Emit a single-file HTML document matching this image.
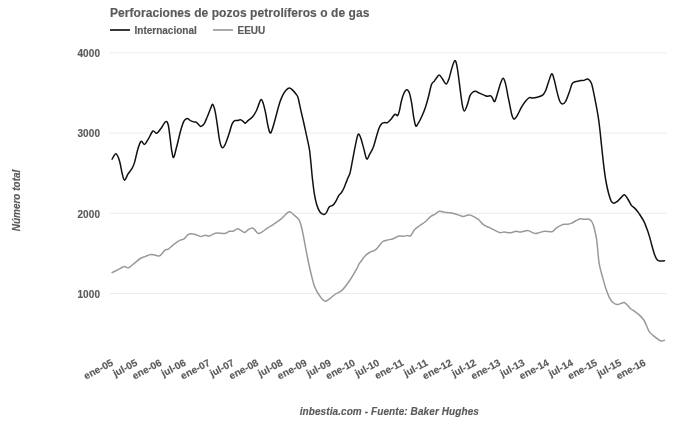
<!DOCTYPE html>
<html><head><meta charset="utf-8"><style>
html,body{margin:0;padding:0;background:#fff;}
body{width:680px;height:424px;overflow:hidden;}
svg{display:block;will-change:transform;}
text{stroke:#5a5a5a;stroke-width:0.15;font-family:"Liberation Sans",sans-serif;}
.t{font-size:12px;letter-spacing:0.06px;font-weight:bold;fill:#5a5a5a;}
.lg{font-size:10px;letter-spacing:0px;font-weight:bold;fill:#5a5a5a;}
.yl{font-size:10px;letter-spacing:0.1px;font-weight:bold;fill:#5a5a5a;}
.xl text{font-size:10px;font-weight:bold;fill:#5a5a5a;}
.at{font-size:10px;font-weight:bold;font-style:italic;fill:#5a5a5a;}
.ft{font-size:10px;letter-spacing:0.09px;font-weight:bold;font-style:italic;fill:#5a5a5a;}
</style></head><body>
<svg width="680" height="424" viewBox="0 0 680 424">
<rect width="680" height="424" fill="#fff"/>
<text class="t" x="110" y="16.7">Perforaciones de pozos petrolíferos o de gas</text>
<line x1="110" x2="130" y1="30" y2="30" stroke="#383838" stroke-width="2"/>
<text class="lg" x="134.5" y="33.8">Internacional</text>
<line x1="213" x2="233" y1="30" y2="30" stroke="#aaa" stroke-width="2"/>
<text class="lg" x="237.5" y="33.8">EEUU</text>
<line x1="110" x2="667" y1="52.90" y2="52.90" stroke="#ececec" stroke-width="1"/><text x="100.1" y="57.10" text-anchor="end" class="yl">4000</text><line x1="110" x2="667" y1="133.10" y2="133.10" stroke="#ececec" stroke-width="1"/><text x="100.1" y="137.30" text-anchor="end" class="yl">3000</text><line x1="110" x2="667" y1="213.30" y2="213.30" stroke="#ececec" stroke-width="1"/><text x="100.1" y="217.50" text-anchor="end" class="yl">2000</text><line x1="110" x2="667" y1="293.50" y2="293.50" stroke="#ececec" stroke-width="1"/><text x="100.1" y="297.70" text-anchor="end" class="yl">1000</text>
<path d="M112.1,272.6C112.9,272.2 115.4,271.0 116.8,270.3C118.2,269.6 119.0,269.0 120.3,268.4C121.5,267.8 122.9,266.6 124.3,266.5C125.7,266.4 126.9,268.2 128.6,267.7C130.3,267.1 132.5,264.7 134.5,263.2C136.5,261.7 138.6,259.6 140.4,258.5C142.2,257.4 143.5,257.2 145.1,256.6C146.7,256.0 148.4,255.0 149.8,254.7C151.2,254.4 151.9,254.5 153.3,254.7C154.7,254.9 156.9,255.8 158.1,255.9C159.3,256.0 159.2,256.4 160.4,255.4C161.6,254.4 163.7,251.3 165.1,250.2C166.5,249.1 167.3,249.7 168.7,248.8C170.1,247.9 171.6,246.2 173.4,244.8C175.2,243.4 177.5,241.6 179.3,240.6C181.1,239.6 182.4,240.0 184.0,238.9C185.6,237.8 186.9,235.0 188.7,234.2C190.5,233.4 192.6,233.8 194.6,234.2C196.6,234.6 198.8,236.4 200.5,236.6C202.2,236.8 203.6,235.4 205.1,235.3C206.6,235.2 208.2,236.2 209.6,236.0C210.9,235.8 211.9,234.6 213.2,234.1C214.5,233.6 215.6,233.2 217.6,233.1C219.6,233.0 223.0,233.8 225.0,233.5C227.0,233.2 228.1,231.7 229.4,231.3C230.8,230.9 231.8,231.6 233.1,231.2C234.4,230.8 236.2,228.8 237.5,228.7C238.8,228.6 240.0,230.0 241.2,230.6C242.4,231.2 243.7,232.6 244.9,232.4C246.1,232.2 247.3,230.2 248.5,229.4C249.7,228.7 251.2,227.9 252.2,227.9C253.2,227.9 253.4,228.5 254.4,229.4C255.4,230.3 256.9,233.0 258.1,233.4C259.3,233.8 260.2,233.0 261.8,232.1C263.4,231.2 265.7,229.2 267.6,227.9C269.6,226.6 271.3,225.8 273.5,224.3C275.7,222.8 278.9,220.7 280.9,219.1C282.9,217.5 283.9,215.9 285.3,214.7C286.7,213.5 288.0,212.2 289.0,211.8C290.0,211.4 290.3,211.9 291.2,212.5C292.1,213.1 293.1,214.2 294.1,215.1C295.1,215.9 296.1,216.4 297.1,217.6C298.1,218.8 299.0,219.3 300.0,222.0C301.0,224.7 301.9,228.4 303.0,233.8C304.1,239.2 305.6,248.0 306.9,254.5C308.2,261.0 309.5,267.3 310.8,272.7C312.1,278.1 313.2,283.1 314.7,287.0C316.2,290.9 318.2,293.7 319.9,296.1C321.6,298.5 323.4,301.0 325.1,301.3C326.8,301.6 328.6,299.4 330.3,298.2C332.0,297.0 333.6,295.3 335.5,294.0C337.4,292.7 339.5,292.6 341.9,290.4C344.3,288.1 347.1,284.3 349.7,280.5C352.3,276.7 356.0,270.1 357.5,267.5C359.0,264.9 358.0,265.7 358.6,264.6C359.2,263.5 360.3,262.2 361.2,261.0C362.1,259.8 362.9,258.5 363.8,257.4C364.7,256.3 365.7,255.3 366.8,254.4C367.9,253.5 369.2,252.6 370.4,252.0C371.6,251.4 373.1,251.2 374.1,250.7C375.1,250.2 375.7,249.8 376.6,248.9C377.5,248.0 378.7,246.3 379.7,245.1C380.7,243.9 381.6,242.3 382.8,241.5C384.0,240.7 385.2,240.7 386.9,240.2C388.6,239.7 391.1,239.4 393.1,238.7C395.1,238.0 397.1,236.4 398.8,236.0C400.5,235.6 401.9,236.4 403.4,236.3C404.8,236.2 406.3,235.6 407.5,235.5C408.7,235.4 409.4,236.8 410.6,235.8C411.8,234.8 413.1,231.3 414.7,229.6C416.2,227.9 418.1,226.8 419.9,225.5C421.7,224.2 423.4,223.4 425.3,221.8C427.2,220.2 429.6,217.4 431.2,216.2C432.8,214.9 433.5,215.1 434.9,214.3C436.2,213.5 437.7,211.7 439.3,211.3C440.9,211.0 442.6,211.9 444.4,212.2C446.2,212.4 448.3,212.5 450.3,212.8C452.3,213.2 454.1,213.7 456.2,214.3C458.3,214.9 461.1,216.3 463.0,216.4C464.9,216.5 466.5,215.2 467.9,215.0C469.3,214.8 470.1,215.0 471.2,215.4C472.3,215.8 473.3,216.5 474.5,217.2C475.7,217.9 476.9,218.2 478.4,219.4C479.9,220.7 481.7,223.3 483.5,224.7C485.3,226.1 487.4,226.6 489.4,227.6C491.4,228.6 493.6,229.8 495.3,230.6C497.0,231.4 498.2,232.3 499.7,232.6C501.2,232.8 502.3,232.1 504.1,232.1C505.9,232.1 508.7,232.9 510.7,232.8C512.7,232.7 514.2,231.4 515.9,231.3C517.6,231.2 519.0,232.2 521.0,232.1C523.0,231.9 525.8,230.3 527.6,230.4C529.5,230.5 530.8,231.9 532.1,232.4C533.5,232.9 534.5,233.5 535.7,233.5C536.9,233.5 537.9,233.0 539.4,232.6C540.9,232.2 542.5,231.3 544.6,231.2C546.7,231.0 550.0,232.1 551.9,231.7C553.8,231.3 554.5,229.5 555.7,228.6C557.0,227.7 558.1,226.9 559.4,226.2C560.7,225.5 562.4,224.6 563.7,224.3C565.1,224.0 566.2,224.5 567.5,224.3C568.8,224.1 570.4,223.7 571.7,223.1C573.0,222.5 574.1,221.7 575.5,221.0C576.9,220.3 578.8,219.0 580.0,218.7C581.2,218.4 581.7,219.1 582.5,219.2C583.3,219.3 584.0,219.3 584.9,219.3C585.8,219.3 586.8,218.9 587.7,219.0C588.6,219.1 589.4,219.4 590.1,219.9C590.8,220.4 591.5,221.1 592.0,222.0C592.5,222.9 592.9,223.9 593.4,225.3C593.9,226.7 594.3,228.5 594.8,230.5C595.3,232.5 595.8,234.8 596.2,237.1C596.6,239.4 596.7,239.8 597.2,244.2C597.7,248.6 598.2,257.8 599.2,263.7C600.2,269.6 602.1,275.2 603.2,279.4C604.3,283.6 604.9,285.8 606.0,288.9C607.1,292.0 608.5,295.9 609.8,298.3C611.1,300.7 612.3,302.0 613.6,303.0C614.9,304.0 616.1,304.4 617.4,304.5C618.6,304.6 620.0,303.7 621.1,303.4C622.2,303.1 623.0,302.4 624.0,302.6C625.0,302.8 625.7,303.5 626.8,304.5C627.9,305.5 629.4,307.6 630.6,308.7C631.9,309.8 632.9,310.1 634.3,311.1C635.7,312.1 637.5,313.4 639.1,314.9C640.7,316.4 642.5,318.2 643.8,320.0C645.0,321.8 645.7,323.7 646.6,325.7C647.5,327.7 648.1,330.1 649.4,331.9C650.7,333.7 652.6,335.1 654.2,336.4C655.8,337.7 657.6,339.0 658.9,339.8C660.1,340.6 660.8,341.0 661.7,341.1C662.6,341.2 664.0,340.4 664.5,340.2" fill="none" stroke="#999" stroke-width="1.5" stroke-linejoin="round" stroke-linecap="round"/>
<path d="M112.1,159.2C112.7,158.3 114.7,153.5 115.9,153.8C117.2,154.1 118.6,158.0 119.6,161.2C120.6,164.4 121.2,169.6 122.0,172.8C122.8,176.0 123.5,179.9 124.5,180.2C125.5,180.5 126.6,176.3 127.8,174.4C129.0,172.5 130.8,170.5 131.9,168.6C133.0,166.7 133.4,166.1 134.4,162.9C135.4,159.8 136.6,153.3 137.7,149.7C138.8,146.1 139.8,142.3 141.0,141.4C142.2,140.5 143.4,144.8 144.6,144.4C145.8,144.0 147.0,141.1 148.4,138.9C149.8,136.7 151.6,131.9 153.0,131.0C154.4,130.1 155.3,133.7 156.6,133.3C157.9,132.9 159.2,130.7 160.7,128.8C162.2,126.9 164.4,122.4 165.7,121.7C166.9,121.0 167.5,122.0 168.2,124.7C168.9,127.4 169.5,133.5 170.1,137.9C170.7,142.3 171.2,147.8 171.8,151.1C172.4,154.3 172.8,157.9 173.6,157.4C174.4,156.9 175.2,152.2 176.4,147.8C177.6,143.5 179.3,135.7 180.5,131.3C181.7,126.9 182.7,123.5 183.8,121.4C184.9,119.3 186.0,118.7 187.1,118.6C188.2,118.5 189.3,120.0 190.4,120.6C191.5,121.1 192.7,121.6 193.7,121.9C194.7,122.2 195.2,121.6 196.2,122.2C197.2,122.8 198.7,124.8 199.5,125.5C200.3,126.2 200.3,126.7 201.1,126.4C201.9,126.1 203.0,125.6 204.1,123.9C205.2,122.2 206.3,119.1 207.4,116.5C208.5,113.9 209.8,110.2 210.7,108.2C211.6,106.2 212.0,104.1 212.7,104.4C213.4,104.7 214.1,107.1 214.8,109.9C215.5,112.7 216.1,117.0 216.8,121.4C217.5,125.8 218.3,132.5 218.9,136.3C219.5,140.2 220.0,142.6 220.6,144.5C221.2,146.4 221.8,147.9 222.6,147.8C223.4,147.7 224.5,145.9 225.5,143.7C226.5,141.5 227.7,137.9 228.8,134.6C229.9,131.3 231.1,126.2 232.1,123.9C233.1,121.6 233.8,121.1 234.6,120.6C235.4,120.0 236.1,120.7 237.1,120.6C238.1,120.5 239.4,119.7 240.4,119.8C241.4,119.9 242.4,120.8 243.2,121.4C244.0,122.0 244.6,123.4 245.4,123.2C246.2,123.0 247.1,121.4 248.3,120.4C249.5,119.4 251.0,118.8 252.4,117.1C253.8,115.4 255.4,112.7 256.5,110.5C257.6,108.3 258.2,105.7 259.0,103.9C259.8,102.1 260.4,99.6 261.1,99.5C261.8,99.4 262.4,100.8 263.1,103.1C263.9,105.3 264.8,109.4 265.6,113.0C266.4,116.6 267.0,121.3 267.7,124.6C268.4,127.9 269.2,132.0 270.0,132.8C270.8,133.6 271.3,132.0 272.2,129.5C273.1,127.0 274.3,122.4 275.5,118.0C276.7,113.6 278.4,106.9 279.6,103.1C280.8,99.2 281.8,97.1 282.9,94.9C284.0,92.7 285.1,91.1 286.2,89.9C287.3,88.7 288.5,87.9 289.5,87.9C290.5,87.9 291.2,88.7 292.4,89.9C293.6,91.1 295.6,93.5 296.6,94.9C297.6,96.3 297.5,95.7 298.2,98.2C298.9,100.7 299.9,106.0 300.7,109.7C301.5,113.4 302.4,116.8 303.2,120.4C304.0,124.0 304.8,127.5 305.6,131.2C306.4,134.9 307.4,139.5 308.1,142.7C308.8,145.9 309.1,147.2 309.6,150.5C310.1,153.8 310.4,158.1 310.9,162.6C311.3,167.1 311.8,172.7 312.3,177.7C312.9,182.7 313.5,188.4 314.2,192.8C314.9,197.2 315.7,201.0 316.6,204.2C317.5,207.3 318.6,210.0 319.8,211.7C321.0,213.4 322.5,214.3 323.6,214.5C324.7,214.7 325.5,213.8 326.4,212.6C327.3,211.3 328.1,208.2 329.2,207.0C330.3,205.8 331.9,206.0 333.0,205.1C334.1,204.2 334.9,202.9 335.8,201.3C336.8,199.7 337.8,197.2 338.7,195.7C339.6,194.2 340.6,193.9 341.5,192.5C342.4,191.1 343.4,189.3 344.3,187.2C345.2,185.0 346.2,182.0 347.2,179.6C348.1,177.2 349.1,176.2 350.0,173.0C350.9,169.8 351.6,165.0 352.5,160.4C353.4,155.8 354.4,149.7 355.4,145.3C356.3,141.0 357.3,135.4 358.2,134.3C359.1,133.2 360.1,136.2 361.0,138.7C361.9,141.2 362.9,145.7 363.9,149.1C364.8,152.5 365.8,158.0 366.7,158.9C367.6,159.8 368.4,156.6 369.5,154.7C370.6,152.8 372.2,150.0 373.3,147.2C374.4,144.4 375.2,140.8 376.1,137.7C377.1,134.5 378.1,130.7 379.0,128.3C379.9,126.0 380.9,124.5 381.8,123.6C382.7,122.6 383.7,122.8 384.6,122.6C385.6,122.4 386.4,123.2 387.5,122.6C388.6,122.0 389.9,120.3 391.2,118.9C392.4,117.5 393.9,114.7 395.0,114.2C396.1,113.7 396.8,116.2 397.5,115.7C398.2,115.2 398.8,113.3 399.4,110.9C400.0,108.5 400.6,104.3 401.3,101.5C402.0,98.7 402.7,96.0 403.6,94.0C404.5,92.0 405.6,90.0 406.6,89.8C407.6,89.6 408.5,90.7 409.4,93.0C410.2,95.3 411.0,99.5 411.7,103.4C412.4,107.3 412.9,112.8 413.6,116.6C414.3,120.4 415.0,124.9 415.8,126.0C416.6,127.1 417.2,124.9 418.3,123.2C419.4,121.5 420.9,118.5 422.1,115.7C423.4,112.9 424.7,109.5 425.8,106.2C426.9,102.9 427.8,99.4 428.7,95.8C429.6,92.2 430.6,87.0 431.5,84.5C432.4,82.0 433.4,82.3 434.3,81.1C435.2,79.8 436.4,78.0 437.2,77.0C438.0,76.0 438.5,74.8 439.4,75.1C440.3,75.4 441.4,77.5 442.5,79.0C443.6,80.5 445.2,84.3 446.3,84.1C447.4,83.9 448.2,80.8 449.2,78.0C450.1,75.2 451.1,70.5 452.0,67.6C452.9,64.7 454.0,61.2 454.8,60.7C455.6,60.2 456.1,62.1 456.7,64.8C457.3,67.5 458.0,72.5 458.6,77.1C459.2,81.7 459.9,87.5 460.5,92.2C461.1,96.9 461.8,102.3 462.4,105.4C463.0,108.5 463.4,111.0 464.2,111.0C465.0,111.0 466.2,107.9 467.1,105.4C468.1,102.9 469.0,98.1 469.9,95.9C470.8,93.7 471.8,93.0 472.7,92.2C473.6,91.4 474.5,91.1 475.6,91.2C476.7,91.3 477.7,92.4 479.3,93.1C480.9,93.8 483.6,95.1 485.0,95.6C486.4,96.1 486.6,96.2 487.5,96.2C488.4,96.2 489.6,95.5 490.4,95.8C491.2,96.0 491.6,96.8 492.3,97.7C493.0,98.7 493.8,102.4 494.7,101.5C495.6,100.6 496.9,95.2 497.9,92.1C498.9,88.9 499.9,84.9 500.8,82.6C501.7,80.3 502.4,78.1 503.2,78.3C504.0,78.5 504.7,80.7 505.5,83.6C506.3,86.5 507.1,91.9 507.9,95.8C508.7,99.7 509.5,103.9 510.2,107.2C510.9,110.5 511.4,113.7 512.1,115.7C512.8,117.7 513.4,119.3 514.3,119.1C515.2,118.9 516.5,116.7 517.7,114.7C518.9,112.7 520.2,109.4 521.5,107.2C522.8,105.0 524.0,103.1 525.3,101.5C526.6,99.9 528.2,98.3 529.4,97.7C530.6,97.1 531.2,98.2 532.5,98.1C533.8,98.0 535.6,97.7 537.3,97.2C539.0,96.7 541.5,96.1 542.9,94.9C544.3,93.7 544.8,92.4 545.8,90.2C546.8,88.0 547.6,84.4 548.6,81.7C549.6,79.0 550.9,74.1 551.8,73.8C552.7,73.5 553.3,76.8 554.2,79.8C555.1,82.8 556.2,88.5 557.1,92.1C558.0,95.7 559.0,99.5 559.9,101.5C560.8,103.5 561.4,104.0 562.4,104.0C563.4,104.0 564.5,103.5 565.6,101.5C566.8,99.5 568.2,95.1 569.3,92.1C570.4,89.1 571.2,85.3 572.2,83.6C573.2,81.9 574.1,82.1 575.0,81.7C575.9,81.3 576.4,81.5 577.4,81.3C578.4,81.1 579.6,80.8 580.7,80.6C581.8,80.4 582.9,80.7 584.0,80.4C585.1,80.1 586.4,79.0 587.3,79.0C588.2,79.0 588.8,79.5 589.5,80.2C590.2,81.0 590.9,81.9 591.5,83.5C592.1,85.1 592.6,87.4 593.1,89.8C593.6,92.2 594.2,95.3 594.8,98.1C595.3,100.8 595.8,103.3 596.4,106.3C597.0,109.3 597.5,112.6 598.1,116.2C598.7,119.8 599.1,122.9 599.7,128.0C600.3,133.1 601.0,140.7 601.7,147.0C602.4,153.3 603.1,160.4 603.8,166.1C604.5,171.8 605.1,176.4 605.9,181.0C606.7,185.6 607.8,190.3 608.7,193.7C609.6,197.0 610.4,199.5 611.2,201.1C612.1,202.7 612.7,203.2 613.8,203.2C614.9,203.2 616.4,202.0 617.6,201.1C618.8,200.2 619.7,198.9 620.8,197.9C621.9,196.9 623.2,194.6 624.4,194.8C625.6,195.0 626.6,197.2 627.8,199.0C629.0,200.8 630.3,203.9 631.4,205.4C632.5,206.9 633.5,207.1 634.6,208.1C635.7,209.1 636.9,210.6 637.8,211.7C638.6,212.8 638.7,212.9 639.7,214.5C640.7,216.1 642.6,218.8 643.8,221.2C645.0,223.5 645.8,226.0 646.8,228.6C647.8,231.2 648.6,233.6 649.5,236.6C650.4,239.6 651.2,243.2 652.1,246.3C653.0,249.4 653.9,252.9 654.8,255.2C655.7,257.5 656.5,259.1 657.4,260.1C658.3,261.1 659.2,260.9 660.4,261.0C661.6,261.1 663.8,260.8 664.5,260.8" fill="none" stroke="#111" stroke-width="1.5" stroke-linejoin="round" stroke-linecap="round"/>
<g class="xl"><text transform="translate(114.00,364.80) rotate(-28)" text-anchor="end">ene-05</text><text transform="translate(138.20,364.80) rotate(-28)" text-anchor="end">jul-05</text><text transform="translate(162.40,364.80) rotate(-28)" text-anchor="end">ene-06</text><text transform="translate(186.60,364.80) rotate(-28)" text-anchor="end">jul-06</text><text transform="translate(210.80,364.80) rotate(-28)" text-anchor="end">ene-07</text><text transform="translate(235.00,364.80) rotate(-28)" text-anchor="end">jul-07</text><text transform="translate(259.20,364.80) rotate(-28)" text-anchor="end">ene-08</text><text transform="translate(283.40,364.80) rotate(-28)" text-anchor="end">jul-08</text><text transform="translate(307.60,364.80) rotate(-28)" text-anchor="end">ene-09</text><text transform="translate(331.80,364.80) rotate(-28)" text-anchor="end">jul-09</text><text transform="translate(356.00,364.80) rotate(-28)" text-anchor="end">ene-10</text><text transform="translate(380.20,364.80) rotate(-28)" text-anchor="end">jul-10</text><text transform="translate(404.40,364.80) rotate(-28)" text-anchor="end">ene-11</text><text transform="translate(428.60,364.80) rotate(-28)" text-anchor="end">jul-11</text><text transform="translate(452.80,364.80) rotate(-28)" text-anchor="end">ene-12</text><text transform="translate(477.00,364.80) rotate(-28)" text-anchor="end">jul-12</text><text transform="translate(501.20,364.80) rotate(-28)" text-anchor="end">ene-13</text><text transform="translate(525.40,364.80) rotate(-28)" text-anchor="end">jul-13</text><text transform="translate(549.60,364.80) rotate(-28)" text-anchor="end">ene-14</text><text transform="translate(573.80,364.80) rotate(-28)" text-anchor="end">jul-14</text><text transform="translate(598.00,364.80) rotate(-28)" text-anchor="end">ene-15</text><text transform="translate(622.20,364.80) rotate(-28)" text-anchor="end">jul-15</text><text transform="translate(646.40,364.80) rotate(-28)" text-anchor="end">ene-16</text></g>
<text class="at" transform="translate(20,200.5) rotate(-90)" text-anchor="middle">Número total</text>
<text class="ft" x="389.3" y="414.8" text-anchor="middle">inbestia.com - Fuente: Baker Hughes</text>
</svg>
</body></html>
